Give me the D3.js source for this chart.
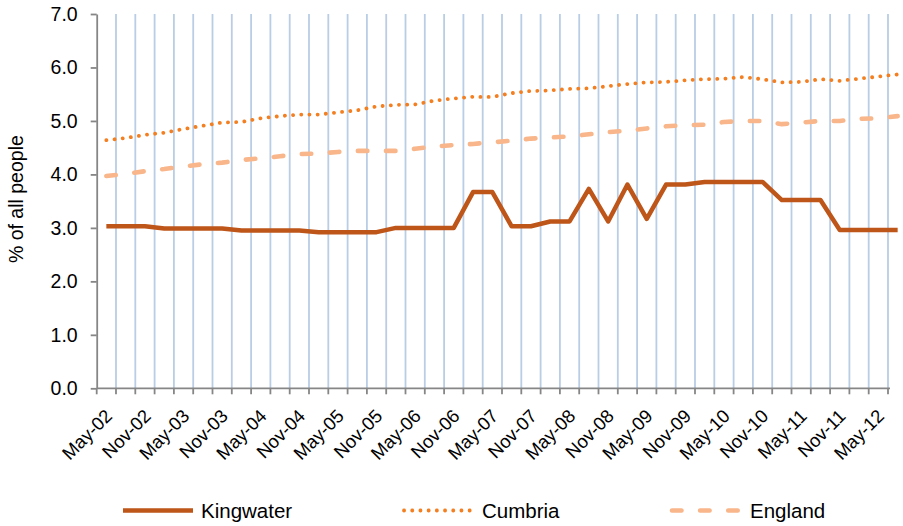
<!DOCTYPE html>
<html><head><meta charset="utf-8">
<script src="https://cdn.jsdelivr.net/npm/d3@7"></script>
<style>
body{margin:0;background:#fff}
svg{display:block;font-family:"Liberation Sans",Arial,sans-serif}
</style>
</head><body><svg width="903" height="526"></svg>
<script>
const categories = ["May-02","Aug-02","Nov-02","Feb-03","May-03","Aug-03","Nov-03","Feb-04","May-04","Aug-04","Nov-04","Feb-05","May-05","Aug-05","Nov-05","Feb-06","May-06","Aug-06","Nov-06","Feb-07","May-07","Aug-07","Nov-07","Feb-08","May-08","Aug-08","Nov-08","Feb-09","May-09","Aug-09","Nov-09","Feb-10","May-10","Aug-10","Nov-10","Feb-11","May-11","Aug-11","Nov-11","Feb-12","May-12","Aug-12"];
const kingwater = [3.03,3.03,3.03,2.99,2.99,2.99,2.99,2.95,2.95,2.95,2.95,2.92,2.92,2.92,2.92,3.00,3.00,3.00,3.00,3.67,3.67,3.03,3.03,3.12,3.12,3.73,3.12,3.81,3.17,3.81,3.81,3.86,3.86,3.86,3.86,3.52,3.52,3.52,2.96,2.96,2.96,2.96];
const cumbria = [4.64,4.68,4.74,4.78,4.85,4.91,4.97,4.98,5.05,5.09,5.12,5.12,5.16,5.20,5.27,5.30,5.31,5.38,5.42,5.45,5.45,5.52,5.56,5.57,5.60,5.61,5.65,5.69,5.72,5.73,5.76,5.78,5.79,5.82,5.78,5.72,5.73,5.78,5.75,5.79,5.83,5.87];
const england = [3.97,4.01,4.06,4.10,4.15,4.19,4.22,4.27,4.30,4.34,4.38,4.39,4.42,4.44,4.44,4.44,4.48,4.52,4.55,4.57,4.60,4.63,4.67,4.69,4.71,4.75,4.79,4.82,4.86,4.90,4.92,4.93,4.98,5.00,5.00,4.94,4.97,5.00,5.00,5.04,5.05,5.09];
const yTicks = [0,1,2,3,4,5,6,7];
const seriesNames = ["Kingwater","Cumbria","England"];
const yTitle = "% of all people";

const svg = d3.select("svg");
const plotLeft = 96.7, plotTop = 14, plotBottom = 388.3, bandW = 19.3;
const x = d3.scaleBand().domain(categories).range([plotLeft, plotLeft + bandW * categories.length]);
const y = d3.scaleLinear().domain([0, 7]).range([plotBottom, plotTop]);
const cx = (i) => x(categories[i]) + x.bandwidth() / 2;

// vertical gridlines at category boundaries
svg.append("g").selectAll("line").data(categories.slice(1)).join("line")
  .attr("x1", d => x(d)).attr("x2", d => x(d))
  .attr("y1", y(0)).attr("y2", y(7))
  .attr("stroke", "#B9CDE5").attr("stroke-width", 1.8);

// x axis
const xg = svg.append("g");
xg.append("line").attr("x1", plotLeft).attr("x2", x(categories[categories.length - 1]) + 2)
  .attr("y1", y(0)).attr("y2", y(0)).attr("stroke", "#868686").attr("stroke-width", 1.8);
xg.selectAll("line.tk").data(categories).join("line").attr("class", "tk")
  .attr("x1", d => x(d)).attr("x2", d => x(d))
  .attr("y1", y(0)).attr("y2", y(0) + 6)
  .attr("stroke", "#868686").attr("stroke-width", 1.8);
xg.selectAll("text").data(categories.filter((d, i) => i % 2 === 0)).join("text")
  .attr("transform", d => `translate(${x(d) + x.bandwidth() / 2 + 7},${y(0) + 29}) rotate(-45)`)
  .attr("text-anchor", "end").attr("font-size", 18.5).attr("fill", "#000")
  .text(d => d);

// y axis
const yAxis = d3.axisLeft(y).tickValues(yTicks).tickFormat(d3.format(".1f")).tickSize(6).tickSizeOuter(0).tickPadding(13);
const yg = svg.append("g").attr("transform", `translate(${plotLeft},0)`).call(yAxis);
yg.select(".domain").attr("stroke", "#868686").attr("stroke-width", 1.8);
yg.selectAll(".tick line").attr("stroke", "#868686").attr("stroke-width", 1.8);
yg.selectAll(".tick text").attr("font-size", 19.5).attr("fill", "#000").attr("font-family", "Liberation Sans, Arial, sans-serif");

svg.append("text").attr("transform", `translate(23,${(plotTop + plotBottom) / 2 - 2}) rotate(-90)`)
  .attr("text-anchor", "middle").attr("font-size", 19.5).text(yTitle);

// lines
const line = d3.line().x((d, i) => cx(i)).y(d => y(d));
const styles = [
  {data: kingwater, color: "#BE5519", width: 4.5, dash: null, cap: "butt"},
  {data: cumbria, color: "#F47F20", width: 3.8, dash: "0.1,8.1", cap: "round"},
  {data: england, color: "#F9B68A", width: 4.6, dash: "9.5,18.6", cap: "round"}
];
[2, 1, 0].forEach(k => {
  const s = styles[k];
  svg.append("path").datum(s.data).attr("d", line)
    .attr("fill", "none").attr("stroke", s.color).attr("stroke-width", s.width)
    .attr("stroke-linejoin", "round").attr("stroke-linecap", s.cap)
    .attr("stroke-dasharray", s.dash);
});

// legend
const legendX = [123, 404, 672];
const lg = svg.append("g");
seriesNames.forEach((name, k) => {
  const s = styles[k];
  lg.append("line").attr("x1", legendX[k]).attr("x2", legendX[k] + 70)
    .attr("y1", 510.5).attr("y2", 510.5)
    .attr("stroke", s.color).attr("stroke-width", s.width)
    .attr("stroke-linecap", s.cap).attr("stroke-dasharray", s.dash);
  lg.append("text").attr("x", legendX[k] + 78).attr("y", 518)
    .attr("font-size", 20.5).attr("fill", "#000").text(name);
});
</script>
</body></html>
